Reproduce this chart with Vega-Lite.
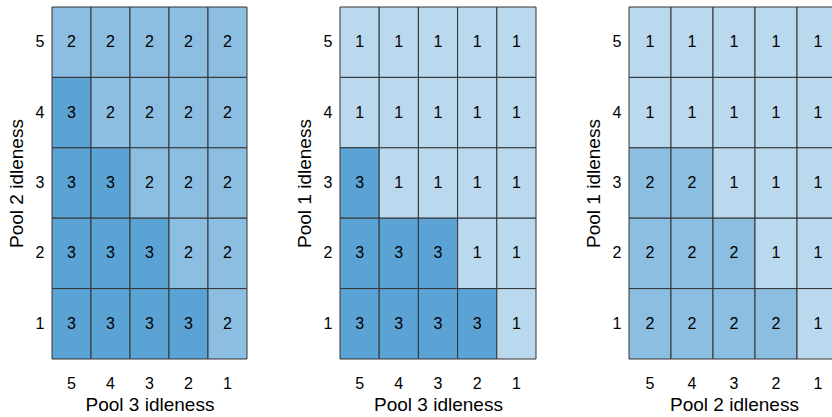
{
  "$schema": "https://vega.github.io/schema/vega-lite/v6.json",
  "padding": {"left": 7, "top": 6, "right": 0, "bottom": 0},
  "bounds": "flush",
  "spacing": 93,
  "config": {
    "view": {"stroke": null},
    "font": "Liberation Sans",
    "axis": {"domain": false, "ticks": false, "labelFontSize": 16, "titleFontSize": 19, "titleFontWeight": "normal", "labelColor": "#000", "titleColor": "#000", "labelAngle": 0, "grid": false},
    "axisX": {"labelPadding": 16, "titlePadding": 4},
    "axisY": {"labelPadding": 8, "titlePadding": 9}
  },
  "datasets": {
    "p1": [
      {"x":5,"y":5,"v":2},{"x":4,"y":5,"v":2},{"x":3,"y":5,"v":2},{"x":2,"y":5,"v":2},{"x":1,"y":5,"v":2},
      {"x":5,"y":4,"v":3},{"x":4,"y":4,"v":2},{"x":3,"y":4,"v":2},{"x":2,"y":4,"v":2},{"x":1,"y":4,"v":2},
      {"x":5,"y":3,"v":3},{"x":4,"y":3,"v":3},{"x":3,"y":3,"v":2},{"x":2,"y":3,"v":2},{"x":1,"y":3,"v":2},
      {"x":5,"y":2,"v":3},{"x":4,"y":2,"v":3},{"x":3,"y":2,"v":3},{"x":2,"y":2,"v":2},{"x":1,"y":2,"v":2},
      {"x":5,"y":1,"v":3},{"x":4,"y":1,"v":3},{"x":3,"y":1,"v":3},{"x":2,"y":1,"v":3},{"x":1,"y":1,"v":2}
    ],
    "p2": [
      {"x":5,"y":5,"v":1},{"x":4,"y":5,"v":1},{"x":3,"y":5,"v":1},{"x":2,"y":5,"v":1},{"x":1,"y":5,"v":1},
      {"x":5,"y":4,"v":1},{"x":4,"y":4,"v":1},{"x":3,"y":4,"v":1},{"x":2,"y":4,"v":1},{"x":1,"y":4,"v":1},
      {"x":5,"y":3,"v":3},{"x":4,"y":3,"v":1},{"x":3,"y":3,"v":1},{"x":2,"y":3,"v":1},{"x":1,"y":3,"v":1},
      {"x":5,"y":2,"v":3},{"x":4,"y":2,"v":3},{"x":3,"y":2,"v":3},{"x":2,"y":2,"v":1},{"x":1,"y":2,"v":1},
      {"x":5,"y":1,"v":3},{"x":4,"y":1,"v":3},{"x":3,"y":1,"v":3},{"x":2,"y":1,"v":3},{"x":1,"y":1,"v":1}
    ],
    "p3": [
      {"x":5,"y":5,"v":1},{"x":4,"y":5,"v":1},{"x":3,"y":5,"v":1},{"x":2,"y":5,"v":1},{"x":1,"y":5,"v":1},
      {"x":5,"y":4,"v":1},{"x":4,"y":4,"v":1},{"x":3,"y":4,"v":1},{"x":2,"y":4,"v":1},{"x":1,"y":4,"v":1},
      {"x":5,"y":3,"v":2},{"x":4,"y":3,"v":2},{"x":3,"y":3,"v":1},{"x":2,"y":3,"v":1},{"x":1,"y":3,"v":1},
      {"x":5,"y":2,"v":2},{"x":4,"y":2,"v":2},{"x":3,"y":2,"v":2},{"x":2,"y":2,"v":1},{"x":1,"y":2,"v":1},
      {"x":5,"y":1,"v":2},{"x":4,"y":1,"v":2},{"x":3,"y":1,"v":2},{"x":2,"y":1,"v":2},{"x":1,"y":1,"v":1}
    ]
  },
  "hconcat": [
    {
      "width": 195, "height": 352,
      "data": {"name": "p1"},
      "encoding": {
        "x": {"field": "x", "type": "ordinal", "sort": "descending", "title": "Pool 3 idleness", "scale": {"paddingInner": 0, "paddingOuter": 0}},
        "y": {"field": "y", "type": "ordinal", "sort": "descending", "title": "Pool 2 idleness", "scale": {"paddingInner": 0, "paddingOuter": 0}}
      },
      "layer": [
        {"mark": {"type": "rect", "stroke": "#333333", "strokeWidth": 1, "opacity": 1},
         "encoding": {"color": {"field": "v", "type": "ordinal", "legend": null, "scale": {"domain": [1,2,3], "range": ["#bad8ee", "#8bbee0", "#5ba3d4"]}}}},
        {"mark": {"type": "text", "fontSize": 16, "color": "#000"},
         "encoding": {"text": {"field": "v", "type": "quantitative"}}}
      ]
    },
    {
      "width": 196, "height": 352,
      "data": {"name": "p2"},
      "encoding": {
        "x": {"field": "x", "type": "ordinal", "sort": "descending", "title": "Pool 3 idleness", "scale": {"paddingInner": 0, "paddingOuter": 0}},
        "y": {"field": "y", "type": "ordinal", "sort": "descending", "title": "Pool 1 idleness", "scale": {"paddingInner": 0, "paddingOuter": 0}}
      },
      "layer": [
        {"mark": {"type": "rect", "stroke": "#333333", "strokeWidth": 1, "opacity": 1},
         "encoding": {"color": {"field": "v", "type": "ordinal", "legend": null, "scale": {"domain": [1,2,3], "range": ["#bad8ee", "#8bbee0", "#5ba3d4"]}}}},
        {"mark": {"type": "text", "fontSize": 16, "color": "#000"},
         "encoding": {"text": {"field": "v", "type": "quantitative"}}}
      ]
    },
    {
      "width": 210, "height": 352,
      "data": {"name": "p3"},
      "encoding": {
        "x": {"field": "x", "type": "ordinal", "sort": "descending", "title": "Pool 2 idleness", "scale": {"paddingInner": 0, "paddingOuter": 0}},
        "y": {"field": "y", "type": "ordinal", "sort": "descending", "title": "Pool 1 idleness", "scale": {"paddingInner": 0, "paddingOuter": 0}}
      },
      "layer": [
        {"mark": {"type": "rect", "stroke": "#333333", "strokeWidth": 1, "opacity": 1},
         "encoding": {"color": {"field": "v", "type": "ordinal", "legend": null, "scale": {"domain": [1,2,3], "range": ["#bad8ee", "#8bbee0", "#5ba3d4"]}}}},
        {"mark": {"type": "text", "fontSize": 16, "color": "#000"},
         "encoding": {"text": {"field": "v", "type": "quantitative"}}}
      ]
    }
  ],
  "resolve": {"scale": {"color": "shared"}}
}
